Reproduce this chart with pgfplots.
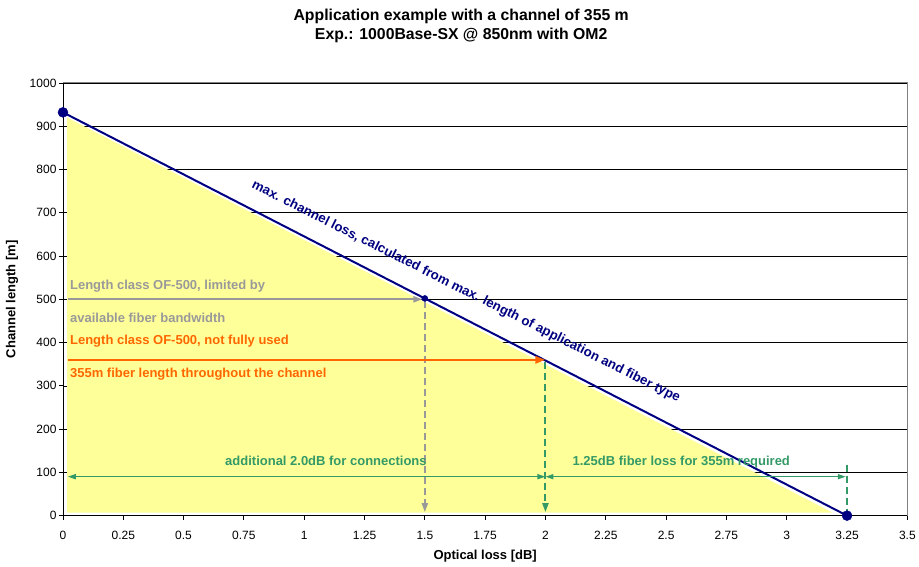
\documentclass[border=0pt]{standalone}
\usepackage{fontspec}
\setmainfont{Liberation Sans}
\usepackage{pgfplots}
\pgfplotsset{compat=1.18}
\usetikzlibrary{arrows.meta}

\definecolor{navyline}{HTML}{000080}
\definecolor{fillyellow}{HTML}{FFFF99}
\definecolor{annogray}{HTML}{999999}
\definecolor{annoorange}{HTML}{FF6600}
\definecolor{annogreen}{HTML}{339966}
\definecolor{framegray}{HTML}{808080}

\tikzset{
  tip/.style={-{Triangle[length=9pt,width=6pt]}},
  anno/.style={anchor=west, inner xsep=0pt, text height=9pt, text depth=0pt,
    font=\bfseries\fontsize{13}{15}\selectfont},
}

\begin{document}
\begin{tikzpicture}
\begin{axis}[
  name=ax, at={(0,0)}, anchor=south west,
  scale only axis, width=845pt, height=433pt,
  xmin=0, xmax=3.5, ymin=0, ymax=1000,
  xtick={0,0.25,0.5,0.75,1,1.25,1.5,1.75,2,2.25,2.5,2.75,3,3.25,3.5},
  ytick={0,100,200,300,400,500,600,700,800,900,1000},
  axis x line*=bottom, axis y line*=left,
  axis line style={black, line width=0.8pt, -},
  tick align=outside, major tick length=4pt,
  tick style={black, line width=0.8pt},
  ymajorgrids, grid style={black, line width=0.6pt},
  ticklabel style={font=\fontsize{12}{14}\selectfont},
  /pgf/number format/assume math mode=true,
  yticklabel style={/pgf/number format/1000 sep={}, xshift=1pt},
  xticklabel style={/pgf/number format/fixed, /pgf/number format/precision=2, yshift=-8pt},
  xlabel={Optical loss [dB]},
  ylabel={Channel length [m]},
  label style={font=\bfseries\fontsize{13}{15}\selectfont},
  xlabel style={at={(axis description cs:0.5,-0.0947)}, anchor=center},
  ylabel style={at={(axis description cs:-0.0604,0.5)}, anchor=center},
  clip=false,
]
% yellow area under the loss line
\addplot[draw=none, fill=fillyellow] coordinates {(0.017,7) (0.017,920) (3.19,7)};

% frame (top and right)
\draw[framegray, line width=1pt] (rel axis cs:0,1) -- (rel axis cs:1,1) -- (rel axis cs:1,0);

% max channel loss line
\addplot[navyline, line width=2pt] coordinates {(0,932) (3.25,0)};

% OF-500 limit (gray)
\addplot[annogray, line width=2pt, tip] coordinates {(0.02,500) (1.49,500)};
\addplot[annogray, line width=2pt, dash pattern=on 7pt off 4pt, tip] coordinates {(1.5,495) (1.5,8)};

% 355 m (orange)
\addplot[annoorange, line width=2.5pt, -{Triangle[length=10pt,width=7pt]}] coordinates {(0.02,360) (2.0,360)};

% green dashed verticals
\addplot[annogreen, line width=2pt, dash pattern=on 7pt off 4pt, tip] coordinates {(2.0,355) (2.0,8)};
\addplot[annogreen, line width=2pt, dash pattern=on 7pt off 4pt] coordinates {(3.25,118) (3.25,5)};

% green dimension arrows
\addplot[annogreen, line width=1.5pt, {Triangle[length=8pt,width=5pt]}-{Triangle[length=8pt,width=5pt]}] coordinates {(0.02,90) (2.0,90)};
\addplot[annogreen, line width=1.5pt, {Triangle[length=8pt,width=5pt]}-{Triangle[length=8pt,width=5pt]}] coordinates {(2.0,90) (3.245,90)};

% dots
\addplot[only marks, mark=*, mark size=5pt, navyline] coordinates {(0,932) (3.25,0)};
\addplot[only marks, mark=*, mark size=3pt, navyline] coordinates {(1.5,502)};

% labels
\node[anno, text=annogray] at (axis cs:0.029,533) {Length class OF-500, limited by};
\node[anno, text=annogray] at (axis cs:0.029,456) {available fiber bandwidth};
\node[anno, text=annoorange] at (axis cs:0.029,405) {Length class OF-500, not fully used};
\node[anno, text=annoorange] at (axis cs:0.029,330) {355m fiber length throughout the channel};
\node[anno, anchor=center, text=annogreen] at (axis cs:1.09,127) {additional 2.0dB for connections};
\node[anno, anchor=center, text=annogreen] at (axis cs:2.563,127) {1.25dB fiber loss for 355m required};
\node[rotate=-26.7, text=navyline, font=\bfseries\fontsize{13.2}{15}\selectfont]
  at (axis cs:1.67,517) {max. channel loss, calculated from max. length of application and fiber type};
\end{axis}

\node[align=center, font=\bfseries\fontsize{15.8}{19}\selectfont]
  at ([xshift=-24pt, yshift=57.5pt]ax.north)
  {Application example with a channel of 355 m\\Exp.: 1000Base-SX @ 850nm with OM2};

\path (ax.south west) ++(-63pt,-51pt) rectangle ([shift={(11pt,83pt)}]ax.north east);
\end{tikzpicture}
\end{document}
